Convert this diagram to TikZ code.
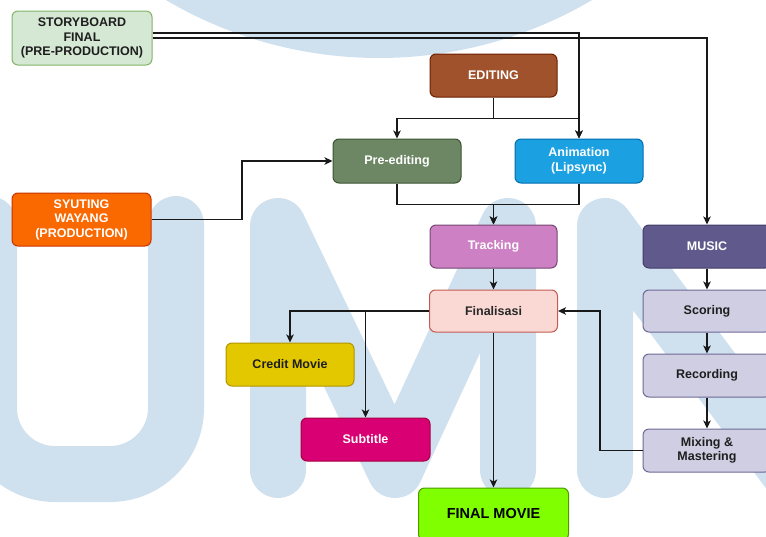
\documentclass[tikz,border=0pt]{standalone}
\usepackage{fontspec}
\setmainfont{Liberation Sans}
\usetikzlibrary{arrows.meta}
\definecolor{wm}{RGB}{207,224,239}
\begin{document}
\begin{tikzpicture}[x=1pt,y=-1pt,
  box/.style={draw, rounded corners=6pt, line width=1pt, inner sep=0pt, align=center,
    font=\bfseries\fontsize{12.5}{14.5}\selectfont, minimum width=128pt, minimum height=43pt},
  conn/.style={draw=black!90, line width=1.2pt},
  arr/.style={conn, -{Stealth[length=8pt,width=7.5pt,inset=2pt]}},
  wmstroke/.style={draw=wm, line width=56pt, line cap=round, line join=round}]
\useasboundingbox (0,0) rectangle (766,536);
\clip (0,0) rectangle (766,536);
% watermark
\fill[wm] (379,-362) circle (420);
\draw[wmstroke, rounded corners=66pt] (-11,224) -- (-11,474) -- (176,474) -- (176,224);
\draw[wmstroke] (278,470) -- (278,226) -- (395,470) -- (508,226) -- (508,470);
\draw[wmstroke] (605,470) -- (605,226) -- (800,487);
% nodes
\node[box, fill={rgb,255:red,213;green,232;blue,212}, draw={rgb,255:red,130;green,179;blue,102},
  text={rgb,255:red,30;green,30;blue,30}, minimum width=140pt, minimum height=54pt] (story) at (82,38) {STORYBOARD\\FINAL\\(PRE-PRODUCTION)};
\node[box, fill={rgb,255:red,250;green,104;blue,0}, draw={rgb,255:red,199;green,53;blue,0},
  text=white, minimum width=139pt, minimum height=53pt] (syut) at (81.5,219.5) {SYUTING\\WAYANG\\(PRODUCTION)};
\node[box, fill={rgb,255:red,160;green,82;blue,45}, draw={rgb,255:red,109;green,31;blue,0},
  text=white, minimum width=127pt] (edit) at (493.5,75.5) {EDITING};
\node[box, fill={rgb,255:red,109;green,135;blue,100}, draw={rgb,255:red,58;green,84;blue,49},
  text=white, minimum height=44pt] (pre) at (397,161) {Pre-editing};
\node[box, fill={rgb,255:red,27;green,161;blue,226}, draw={rgb,255:red,0;green,110;blue,175},
  text=white, minimum height=44pt] (anim) at (579,161) {Animation\\(Lipsync)};
\node[box, fill={rgb,255:red,205;green,128;blue,195}, draw={rgb,255:red,120;green,70;blue,115},
  text=white, minimum width=127pt] (track) at (493.5,246.5) {Tracking};
\node[box, fill={rgb,255:red,96;green,90;blue,140}, draw={rgb,255:red,67;green,60;blue,105},
  text=white] (music) at (707,246.5) {MUSIC};
\node[box, fill={rgb,255:red,250;green,217;blue,213}, draw={rgb,255:red,196;green,90;blue,80},
  text={rgb,255:red,40;green,40;blue,40}, minimum height=42pt] (fin) at (493.5,311) {Finalisasi};
\node[box, fill={rgb,255:red,208;green,206;blue,226}, draw={rgb,255:red,110;green,105;blue,150},
  text={rgb,255:red,30;green,30;blue,30}, minimum height=42pt] (scor) at (707,311) {Scoring};
\node[box, fill={rgb,255:red,208;green,206;blue,226}, draw={rgb,255:red,110;green,105;blue,150},
  text={rgb,255:red,30;green,30;blue,30}] (rec) at (707,375.5) {Recording};
\node[box, fill={rgb,255:red,208;green,206;blue,226}, draw={rgb,255:red,110;green,105;blue,150},
  text={rgb,255:red,30;green,30;blue,30}] (mix) at (707,450.5) {Mixing \&\\Mastering};
\node[box, fill={rgb,255:red,227;green,200;blue,0}, draw={rgb,255:red,176;green,149;blue,0},
  text={rgb,255:red,30;green,30;blue,30}] (credit) at (290,364.5) {Credit Movie};
\node[box, fill={rgb,255:red,216;green,0;blue,115}, draw={rgb,255:red,165;green,0;blue,64},
  text=white, minimum width=129pt] (sub) at (365.5,439.5) {Subtitle};
\node[box, fill={rgb,255:red,128;green,255;blue,0}, draw={rgb,255:red,77;green,153;blue,0},
  text=black, minimum width=150pt, minimum height=52pt,
  font=\bfseries\fontsize{14.5}{16}\selectfont] (final) at (493.5,514) {FINAL MOVIE};
% connectors
\coordinate (sj) at (242,0);
\coordinate (mj) at (600,0);
\draw[arr] ([yshift=5pt]story.east) -| (anim.north);
\draw[arr] (story.east) -| (music.north);
\draw[arr] (edit.south) -- ++(0,21) -| (pre.north);
\draw[arr] (edit.south) -- ++(0,21) -| (anim.north);
\draw[arr] (syut.east) -- (syut.east -| sj) |- (pre.west);
\draw[arr] (pre.south) -- ++(0,21) -| (track.north);
\draw[arr] (anim.south) -- ++(0,21) -| (track.north);
\draw[arr] (track.south) -- (fin.north);
\draw[arr] (fin.west) -| (credit.north);
\draw[arr] (fin.west) -| (sub.north);
\draw[arr] (fin.south) -- (final.north);
\draw[arr] (music.south) -- (scor.north);
\draw[arr] (scor.south) -- (rec.north);
\draw[arr] (rec.south) -- (mix.north);
\draw[arr] (mix.west) -- (mix.west -| mj) |- (fin.east);
\end{tikzpicture}
\end{document}
